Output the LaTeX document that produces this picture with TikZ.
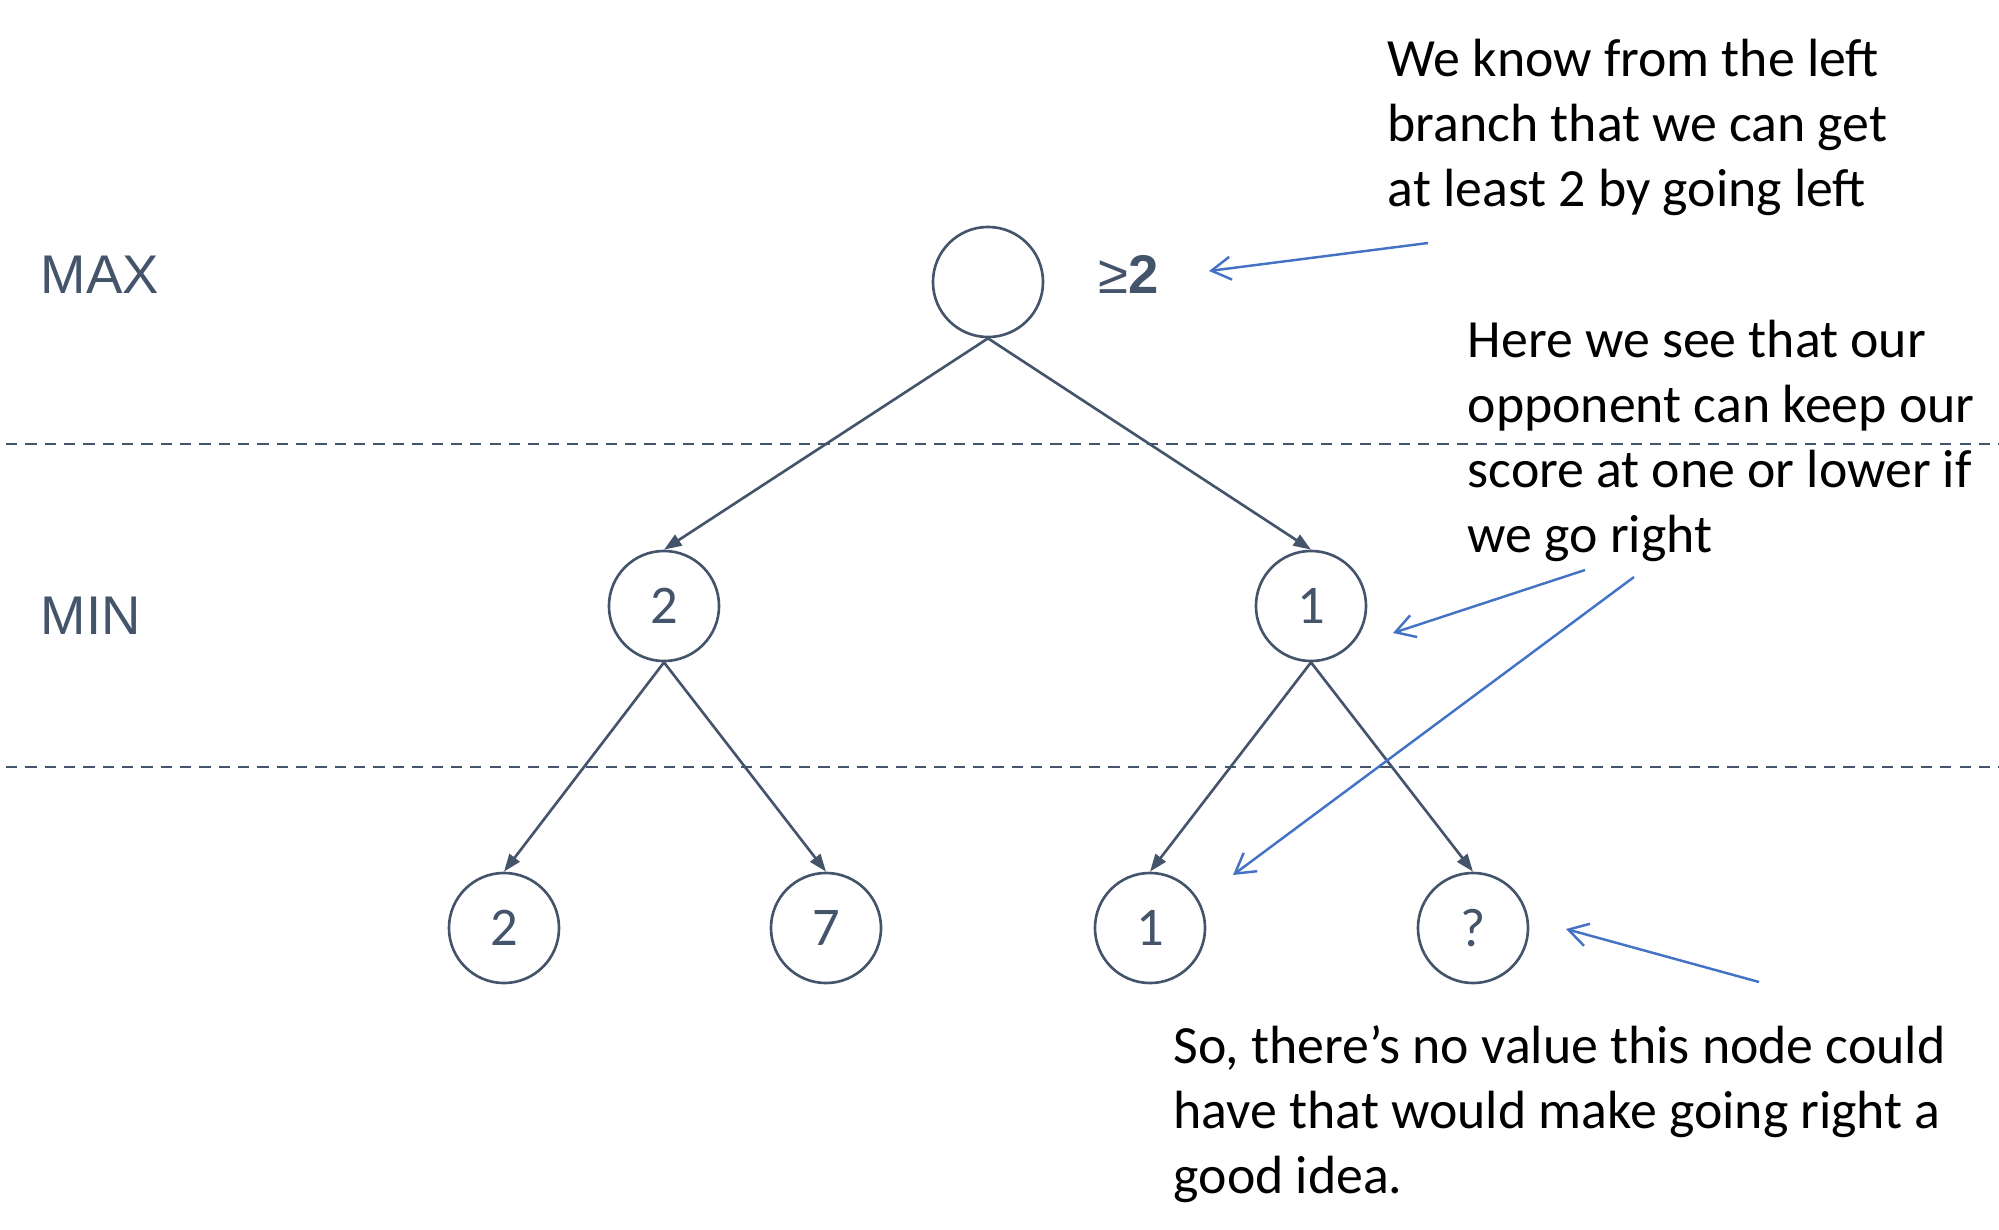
\documentclass[tikz,border=0pt]{standalone}
\usepackage{fontspec}
\setmainfont{Carlito}
\newfontfamily\arialfont{Liberation Sans}
\usetikzlibrary{arrows.meta}
\definecolor{slate}{HTML}{44546A}
\definecolor{hintblue}{HTML}{4472C4}

\begin{document}
\begin{tikzpicture}[x=0.01cm, y=-0.01cm,
	vert/.style={draw=slate, circle, line width=0.75pt, minimum size=1.1cm,
		inner sep=0pt, text=slate, font=\fontsize{15.5}{18}\selectfont},
	layer/.style={text=slate, inner sep=0pt, anchor=base west,
		font=\arialfont\fontsize{15.5}{18}\selectfont},
	link/.style={draw=slate, line width=0.75pt, -{Triangle[length=5pt,width=3.6pt]}},
	remark/.style={anchor=base west, align=left, inner sep=0pt,
		font=\fontsize{15.3}{18.4}\selectfont},
	pointer/.style={draw=hintblue, line width=0.7pt, -{Straight Barb[length=5.5pt,width=6.5pt]}}]
	\useasboundingbox (0,0) rectangle (1999,1230);
	\node[vert] (r) at (988,282) {};
	\node[vert] (a) at (664,606) {2};
	\node[vert] (b) at (1311,606) {1};
	\node[vert] (a1) at (504,928) {2};
	\node[vert] (a2) at (826,928) {7};
	\node[vert] (b1) at (1150,928) {1};
	\node[vert] (b2) at (1473,928) {?};
	\node[layer] (max) at (40,293) {MAX};
	\node[layer] (min) at (40,634) {MIN};
	\node[layer] (bound) at (1098,293) {≥\textbf{2}};
	\draw[slate, line width=0.6pt, dash pattern=on 3.2pt off 2.3pt] (6,444) -- (1999,444);
	\draw[slate, line width=0.6pt, dash pattern=on 3.2pt off 2.3pt] (6,767) -- (1999,767);
	\draw[link] (r.south) -- (a.north);
	\draw[link] (r.south) -- (b.north);
	\draw[link] (a.south) -- (a1.north);
	\draw[link] (a.south) -- (a2.north);
	\draw[link] (b.south) -- (b1.north);
	\draw[link] (b.south) -- (b2.north);
	\node[remark] (t1) at (1387,206) {We know from the left\\branch that we can get\\at least 2 by going left};
	\node[remark] (t2) at (1467,552) {Here we see that our\\opponent can keep our\\score at one or lower if\\we go right};
	\node[remark] (t3) at (1173,1193) {So, there’s no value this node could\\have that would make going right a\\good idea.};
	\coordinate (p1) at (1428,243);
	\coordinate (q1) at (1209,271);
	\coordinate (p2) at (1585,570);
	\coordinate (q2) at (1393,633);
	\coordinate (p3) at (1634,577);
	\coordinate (q3) at (1233,875);
	\coordinate (p4) at (1759,982);
	\coordinate (q4) at (1566,929);
	\draw[pointer] (p1) -- (q1);
	\draw[pointer] (p2) -- (q2);
	\draw[pointer] (p3) -- (q3);
	\draw[pointer] (p4) -- (q4);
\end{tikzpicture}
\end{document}
